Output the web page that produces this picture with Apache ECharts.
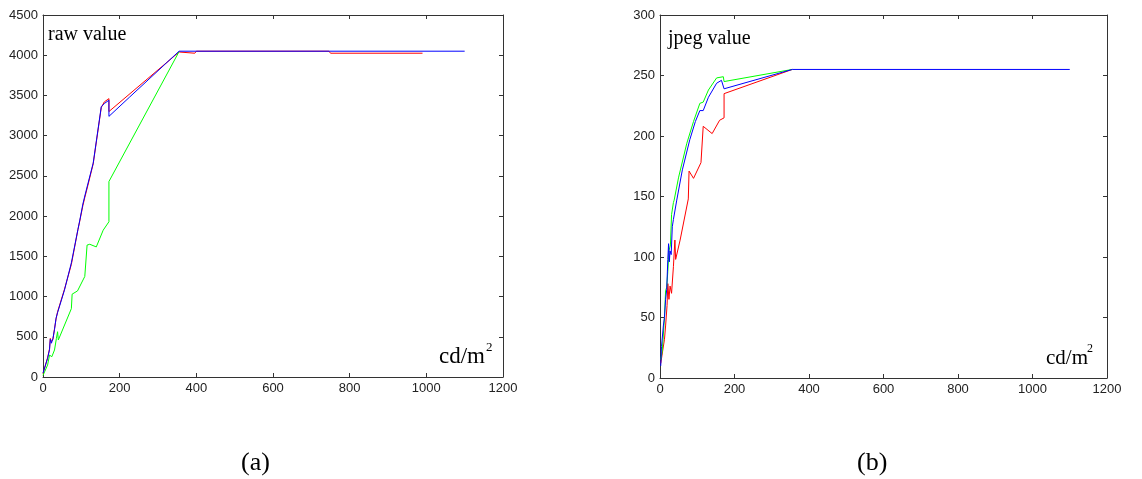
<!DOCTYPE html>
<html>
<head>
<meta charset="utf-8">
<script src="https://cdn.jsdelivr.net/npm/echarts@6/dist/echarts.min.js"></script>
<style>
  html, body { margin: 0; padding: 0; background: #fff; }
  #chart { width: 1142px; height: 479px; }
</style>
</head>
<body>
<div id="chart"></div>
<script>
// Luminance (cd/m^2) versus sensor output, three colour channels.
const xTicks = [0, 200, 400, 600, 800, 1000, 1200];
const rawTicks = [0, 500, 1000, 1500, 2000, 2500, 3000, 3500, 4000, 4500];
const jpegTicks = [0, 50, 100, 150, 200, 250, 300];

// (a) raw value: [cd/m^2, value]
const rawRed = [[0,40],[12,240],[17,350],[19,480],[22,440],[26,470],[30,600],[34,720],[38,810],[56,1090],[74,1400],[91,1830],[96,1940],[104,2130],[109,2230],[117,2380],[131,2650],[152,3350],[160,3420],[172,3460],[172,3300],[355,4040],[396,4025],[400,4050],[746,4050],[750,4025],[990,4025]];
const rawGreen = [[0,20],[12,149],[17,273],[23,252],[30,336],[35,480],[38,563],[40,460],[74,850],[76,1030],[90,1070],[109,1250],[115,1640],[122,1650],[139,1617],[157,1825],[172,1930],[172,2430],[355,4045]];
const rawBlue = [[0,50],[12,232],[17,340],[19,470],[22,420],[26,480],[30,590],[34,730],[38,800],[40,780],[56,1080],[74,1420],[91,1830],[96,1950],[104,2150],[109,2250],[117,2400],[131,2660],[152,3360],[160,3400],[172,3440],[172,3240],[226,3480],[355,4050],[1100,4050]];

// (b) jpeg value: [cd/m^2, value]
const jpegRed = [[2,12],[12,32],[15,43],[19,60],[21,78],[24,65],[27,76],[31,70],[36,92],[40,114],[42,98],[54,114],[76,148],[78,171],[90,165],[110,178],[116,208],[140,202],[160,213],[172,215],[172,235],[355,255]];
const jpegGreen = [[2,15],[6,22],[12,50],[15,72],[18,75],[21,88],[24,105],[28,110],[31,135],[36,145],[38,147],[50,166],[72,194],[90,212],[107,227],[116,228],[130,238],[152,248],[170,249],[172,245],[355,255]];
const jpegBlue = [[2,10],[4,26],[9,43],[12,50],[15,65],[18,73],[21,98],[23,111],[25,96],[27,105],[30,102],[33,125],[36,131],[45,147],[60,172],[80,197],[95,212],[107,221],[116,221],[130,232],[152,243.6],[165,246],[170,246],[172,239],[355,255],[1100,255]];

const SANS = '"Liberation Sans", Arial, sans-serif';
const SERIF = '"Liberation Serif", "Times New Roman", serif';
const AXIS_COLOR = '#333';
const plain = v => String(v);

function xAxisPair(grid) {
  const base = {
    type: 'value', gridIndex: grid, min: xTicks[0], max: xTicks[xTicks.length - 1],
    interval: xTicks[1] - xTicks[0],
    axisLine: { show: true, onZero: false, lineStyle: { color: AXIS_COLOR, width: 1 } },
    axisTick: { show: true, inside: true, length: 4, lineStyle: { color: AXIS_COLOR } },
    splitLine: { show: false }
  };
  return [
    Object.assign({}, base, { position: 'bottom',
      axisLabel: { show: true, margin: 5, fontSize: 13, color: '#222', fontFamily: SANS, formatter: plain } }),
    Object.assign({}, base, { position: 'top', axisLabel: { show: false } })
  ];
}

function yAxisPair(grid, ticks) {
  const base = {
    type: 'value', gridIndex: grid, min: ticks[0], max: ticks[ticks.length - 1],
    interval: ticks[1] - ticks[0],
    axisLine: { show: true, onZero: false, lineStyle: { color: AXIS_COLOR, width: 1 } },
    axisTick: { show: true, inside: true, length: 4, lineStyle: { color: AXIS_COLOR } },
    splitLine: { show: false }
  };
  return [
    Object.assign({}, base, { position: 'left',
      axisLabel: { show: true, margin: 5, fontSize: 13, color: '#222', fontFamily: SANS, formatter: plain } }),
    Object.assign({}, base, { position: 'right', axisLabel: { show: false } })
  ];
}

function line(data, color, axisIdx) {
  return {
    type: 'line', data: data, xAxisIndex: axisIdx, yAxisIndex: axisIdx,
    showSymbol: false, symbol: 'none', silent: true,
    lineStyle: { color: color, width: 1 }, itemStyle: { color: color }
  };
}

function label(text, x, y, size) {
  return { type: 'text', x: x, y: y, silent: true,
    style: { text: text, font: size + 'px ' + SERIF, fill: '#000', textVerticalAlign: 'middle' } };
}

const chart = echarts.init(document.getElementById('chart'), null, { renderer: 'canvas' });
chart.setOption({
  animation: false,
  backgroundColor: '#fff',
  grid: [
    { left: 43, right: 639, top: 15, bottom: 102 },
    { left: 660, right: 35, top: 15, bottom: 101 }
  ],
  xAxis: [].concat(xAxisPair(0), xAxisPair(1)),
  yAxis: [].concat(yAxisPair(0, rawTicks), yAxisPair(1, jpegTicks)),
  series: [
    line(rawRed, '#ff0000', 0),
    line(rawGreen, '#00ff00', 0),
    line(rawBlue, '#0000ff', 0),
    line(jpegRed, '#ff0000', 2),
    line(jpegGreen, '#00ff00', 2),
    line(jpegBlue, '#0000ff', 2)
  ],
  graphic: [
    label('raw value', 48, 35, 20),
    label('cd/m', 439, 357, 23),
    label('2', 486, 348, 13),
    label('jpeg value', 668, 39, 20),
    label('cd/m', 1046, 358, 21),
    label('2', 1087, 349, 12),
    label('(a)', 241, 463, 26),
    label('(b)', 857, 463, 26)
  ]
});
</script>
</body>
</html>
